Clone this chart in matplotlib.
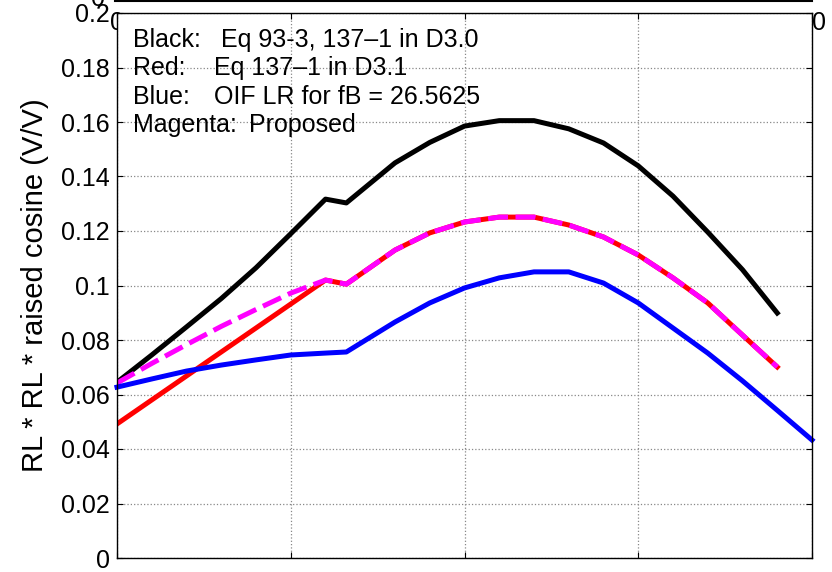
import numpy as np
import matplotlib.pyplot as plt
from matplotlib.lines import Line2D

plt.rcParams['font.family'] = ['Liberation Sans', 'DejaVu Sans']

# x positions (grid every 5 units)
x_black = [0, 1, 2, 3, 4, 5, 6, 6.6, 8, 9, 10, 11, 12, 13, 14, 15, 16, 17, 18, 19]
y_black = [0.0645, 0.0745, 0.0848, 0.0952, 0.1065, 0.119, 0.1317, 0.1303, 0.145, 0.1525,
           0.1585, 0.1605, 0.1605, 0.1575, 0.1523, 0.1439, 0.1328, 0.1196, 0.1058, 0.0899]

x_red = [0, 1, 2, 3, 4, 5, 6, 6.6, 8, 9, 10, 11, 12, 13, 14, 15, 16, 17, 18, 19]
y_red = [0.0492, 0.0580, 0.0668, 0.0756, 0.0844, 0.0932, 0.102, 0.1005, 0.113, 0.1193,
         0.1233, 0.1251, 0.1251, 0.1222, 0.1178, 0.1112, 0.1028, 0.0936, 0.0818, 0.0701]

x_mag = [0, 1, 2, 3, 4, 5, 6, 6.6, 8, 9, 10, 11, 12, 13, 14, 15, 16, 17, 18, 19]
y_mag = [0.0642, 0.0714, 0.0783, 0.0850, 0.0912, 0.0972, 0.102, 0.1005, 0.113, 0.1193,
         0.1233, 0.1251, 0.1251, 0.1222, 0.1178, 0.1112, 0.1028, 0.0936, 0.0818, 0.0701]

x_blue = [0, 1, 2, 3, 4, 5, 6, 6.6, 8, 9, 10, 11, 12, 13, 14, 15, 16, 17, 18, 19, 20]
y_blue = [0.0627, 0.0657, 0.0686, 0.0708, 0.0727, 0.0745, 0.0752, 0.0756, 0.0866, 0.0936,
          0.0991, 0.1028, 0.105, 0.105, 0.1009, 0.0936, 0.0844, 0.0752, 0.065, 0.0542, 0.0433]

note_keys = ['Black:', 'Red:', 'Blue:', 'Magenta:']
note_texts = ['Eq 93-3, 137\u20131 in D3.0', 'Eq 137\u20131 in D3.1',
              'OIF LR for fB = 26.5625', 'Proposed']
note_text_x = [3.0, 2.8, 2.8, 3.8]

fig = plt.figure(figsize=(8.32, 5.72), dpi=100)
ax = fig.add_axes([117/832, 14/572, (812-117)/832, (558-13)/572])

lw = 3.6
ax.plot(x_black, y_black, color='black', lw=lw)
ax.plot(x_red, y_red, color='red', lw=lw)
ax.plot(x_mag, y_mag, color='magenta', lw=lw, dashes=(4, 1.5))
ax.plot(x_blue, y_blue, color='blue', lw=lw, clip_on=False)

ax.set_xlim(0, 20)
ax.set_ylim(0, 0.2)
ax.set_xticks([0, 5, 10, 15, 20])
ax.set_xticklabels([])
ax.set_yticks(np.arange(0, 0.201, 0.02))
ax.set_yticklabels(['0', '0.02', '0.04', '0.06', '0.08', '0.1', '0.12', '0.14',
                    '0.16', '0.18', '0.2'], fontsize=18)
ax.tick_params(direction='in', length=4, top=True, right=True, pad=5)
ax.grid(True, color='#888888', linestyle=':', linewidth=0.9)
for s in ax.spines.values():
    s.set_linewidth(1.0)
ax.set_ylabel('RL * RL * raised cosine (V/V)', fontsize=21, labelpad=9)

for i in range(len(note_keys)):
    yy = 0.1901 - i * 0.0104
    ax.text(0.46, yy, note_keys[i], fontsize=18, va='center', ha='left')
    ax.text(note_text_x[i], yy, note_texts[i], fontsize=18, va='center', ha='left')

# remnants of another figure behind this one
fig.text(117/832, 1 - 23/572, '0', fontsize=18, ha='center', va='center', zorder=-1)
fig.text(812/832, 1 - 23/572, '0', fontsize=18, ha='left', va='center', zorder=-1)
fig.text(98/832, 1 + 1/572, '0', fontsize=18, ha='center', va='center')
fig.add_artist(Line2D([115/832, 812/832], [1 - 1/572, 1 - 1/572], color='black', lw=1.5))

fig.savefig('out.png', dpi=100)
